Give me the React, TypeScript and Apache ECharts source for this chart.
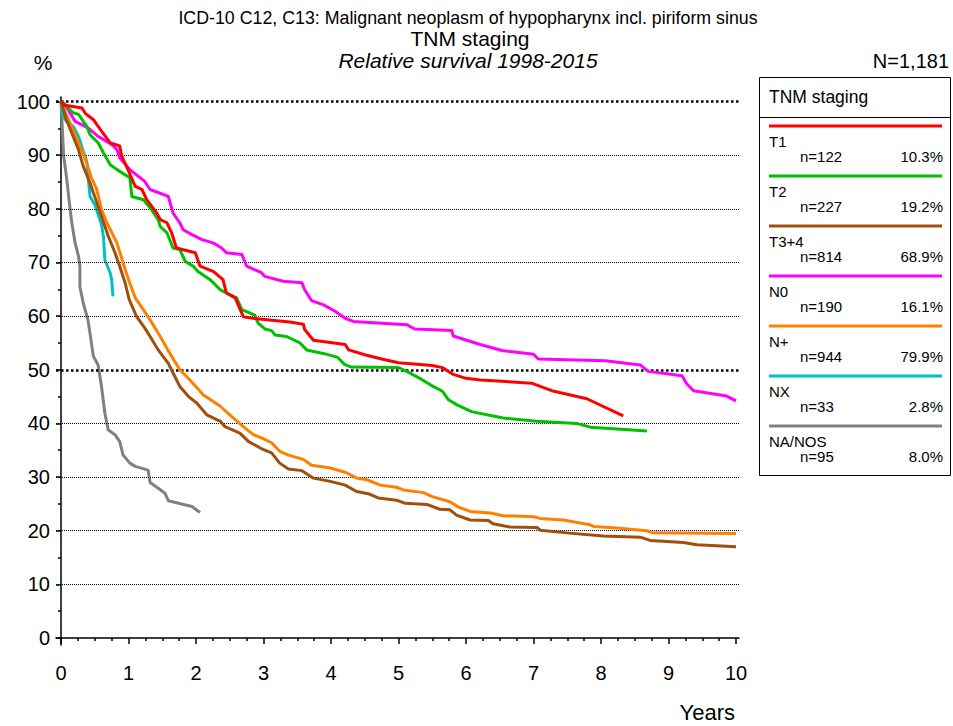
import React, { useEffect, useRef } from "react";
import * as echarts from "echarts";

const seriesNames = ["T1", "T2", "T3+4", "N0", "N+", "NX", "NA/NOS"];
const seriesColors = ["#ff0000", "#00c000", "#a0500a", "#ff00ff", "#ff8000", "#00c0c0", "#808080"];
const counts = ["n=122", "n=227", "n=814", "n=190", "n=944", "n=33", "n=95"];
const shares = ["10.3%", "19.2%", "68.9%", "16.1%", "79.9%", "2.8%", "8.0%"];

const yTickLabels = [0, 10, 20, 30, 40, 50, 60, 70, 80, 90, 100];
const yMinorTicks = [5, 15, 25, 35, 45, 55, 65, 75, 85, 95];
const xTickLabels = [0, 1, 2, 3, 4, 5, 6, 7, 8, 9, 10];
const xMinorTicks = [0.25, 0.5, 0.75, 1.25, 1.5, 1.75, 2.25, 2.5, 2.75, 3.25, 3.5, 3.75, 4.25, 4.5, 4.75, 5.25, 5.5, 5.75, 6.25, 6.5, 6.75, 7.25, 7.5, 7.75, 8.25, 8.5, 8.75, 9.25, 9.5, 9.75];
const gridLevels = [10, 20, 30, 40, 60, 70, 80, 90];
const boldLevels = [50, 100];

const t1: [number, number][] = [
  [0, 100], [0.06, 99.3], [0.31, 98.8], [0.36, 97.8], [0.48, 96.6], [0.6, 94.5], [0.73, 92.3], [0.87, 91.7],
  [0.9, 89.8], [0.97, 87.9], [1.1, 84.2], [1.2, 83.6], [1.27, 81.7], [1.42, 79.2], [1.47, 78.0], [1.57, 77.4],
  [1.64, 75.5], [1.71, 72.7], [1.99, 71.8], [2.06, 69.3], [2.26, 68.3], [2.4, 66.8], [2.45, 64.3], [2.58, 63.4],
  [2.7, 59.9], [2.9, 59.5], [3.39, 58.9], [3.59, 58.5], [3.61, 57.5], [3.74, 55.5], [4.21, 54.7], [4.26, 53.7],
  [4.5, 52.8], [4.75, 52.0], [5.0, 51.3], [5.5, 50.8], [5.65, 50.4], [5.8, 49.2], [6.0, 48.4], [6.21, 48.1],
  [6.97, 47.5], [7.27, 46.1], [7.79, 44.6], [8.33, 41.4]
];
const t2: [number, number][] = [
  [0, 100], [0.06, 99.4], [0.18, 97.9], [0.26, 97.6], [0.38, 95.4], [0.43, 93.8], [0.55, 92.3], [0.63, 90.4],
  [0.73, 88.2], [0.83, 87.3], [1.02, 85.8], [1.05, 82.3], [1.22, 81.7], [1.32, 80.2], [1.44, 78.0], [1.47, 76.7],
  [1.57, 75.5], [1.66, 72.7], [1.76, 72.4], [1.84, 70.2], [1.96, 69.3], [2.03, 68.3], [2.21, 66.8], [2.36, 64.9],
  [2.6, 63.4], [2.68, 61.2], [2.87, 60.2], [2.92, 58.7], [3.02, 57.6], [3.12, 57.3], [3.17, 56.5], [3.34, 56.2],
  [3.54, 55.0], [3.64, 53.7], [3.9, 53.0], [4.1, 52.3], [4.2, 51.0], [4.3, 50.5], [5.0, 50.4], [5.15, 49.5],
  [5.3, 48.5], [5.5, 47.0], [5.65, 46.0], [5.74, 44.4], [5.86, 43.5], [6.08, 42.2], [6.55, 41.0], [7.05, 40.4],
  [7.64, 40.0], [7.84, 39.3], [8.68, 38.6]
];
const t34: [number, number][] = [
  [0, 100], [0.08, 96.6], [0.18, 93.5], [0.26, 91.0], [0.33, 87.9], [0.43, 84.8], [0.5, 82.3], [0.6, 78.6],
  [0.7, 74.9], [0.8, 71.8], [0.87, 69.3], [0.95, 66.2], [1.01, 63.1], [1.12, 59.9], [1.24, 57.8], [1.32, 56.2],
  [1.44, 53.7], [1.59, 51.2], [1.66, 49.4], [1.76, 46.9], [1.89, 45.0], [2.01, 43.8], [2.16, 41.6], [2.36, 40.4],
  [2.43, 39.4], [2.65, 38.2], [2.78, 36.6], [3.0, 35.1], [3.12, 34.5], [3.24, 32.6], [3.37, 31.5], [3.57, 31.2],
  [3.74, 29.8], [3.99, 29.2], [4.21, 28.5], [4.38, 27.3], [4.55, 26.9], [4.7, 26.1], [4.97, 25.7], [5.1, 25.1],
  [5.42, 24.9], [5.61, 24.0], [5.76, 23.9], [5.86, 22.9], [6.06, 22.0], [6.33, 21.9], [6.4, 21.3], [6.65, 20.7],
  [7.05, 20.6], [7.1, 20.1], [7.49, 19.6], [8.03, 19.0], [8.58, 18.8], [8.73, 18.2], [9.22, 17.8], [9.42, 17.4],
  [10.0, 17.0]
];
const n0: [number, number][] = [
  [0, 100], [0.06, 99.4], [0.21, 96.3], [0.4, 95.1], [0.55, 93.5], [0.75, 92.0], [0.83, 91.0], [0.87, 89.5],
  [1.02, 87.3], [1.17, 85.8], [1.24, 85.1], [1.32, 83.6], [1.59, 82.3], [1.66, 79.2], [1.76, 77.4], [1.81, 76.1],
  [1.94, 75.2], [2.08, 74.3], [2.26, 73.6], [2.38, 72.7], [2.45, 71.8], [2.68, 71.5], [2.75, 69.3], [2.97, 68.1],
  [3.02, 67.4], [3.29, 66.5], [3.57, 66.2], [3.61, 64.9], [3.71, 62.9], [3.89, 62.1], [4.06, 60.9], [4.21, 59.6],
  [4.33, 59.0], [5.12, 58.4], [5.24, 57.6], [5.79, 57.3], [5.81, 56.3], [6.21, 54.7], [6.53, 53.6], [7.0, 52.9],
  [7.07, 52.0], [8.06, 51.7], [8.58, 50.9], [8.7, 49.7], [9.2, 48.9], [9.27, 47.4], [9.37, 46.1], [9.86, 45.1],
  [10.0, 44.2]
];
const nPlus: [number, number][] = [
  [0, 100], [0.08, 97.5], [0.18, 94.7], [0.28, 91.7], [0.38, 88.6], [0.45, 85.8], [0.53, 83.6], [0.6, 79.9],
  [0.68, 77.4], [0.83, 73.6], [0.92, 69.9], [1.0, 66.8], [1.1, 63.4], [1.22, 61.2], [1.32, 59.3], [1.47, 56.2],
  [1.61, 53.1], [1.76, 50.0], [1.91, 48.1], [2.11, 45.3], [2.36, 43.2], [2.5, 41.6], [2.7, 39.4], [2.85, 37.9],
  [2.97, 37.3], [3.12, 36.4], [3.24, 34.8], [3.37, 34.1], [3.59, 33.3], [3.71, 32.2], [3.99, 31.7], [4.23, 30.8],
  [4.38, 29.8], [4.53, 29.5], [4.73, 28.5], [4.97, 28.1], [5.07, 27.6], [5.37, 27.1], [5.49, 26.4], [5.76, 25.4],
  [5.89, 24.4], [6.06, 23.6], [6.36, 23.3], [6.55, 22.8], [7.0, 22.6], [7.1, 22.3], [7.44, 22.0], [7.84, 21.1],
  [7.89, 20.8], [8.23, 20.5], [8.68, 20.0], [8.77, 19.6], [10.0, 19.5]
];
const nx: [number, number][] = [
  [0, 100], [0.03, 97.3], [0.08, 96.3], [0.18, 95.4], [0.26, 93.5], [0.33, 90.7], [0.38, 88.9], [0.43, 82.3],
  [0.5, 80.8], [0.6, 77.1], [0.63, 74.6], [0.65, 70.5], [0.73, 68.0], [0.75, 66.8], [0.77, 63.7]
];
const naNos: [number, number][] = [
  [0, 100], [0.01, 97.3], [0.02, 94.8], [0.04, 89.8], [0.08, 86.1], [0.13, 80.5], [0.16, 77.4], [0.21, 73.6],
  [0.26, 71.1], [0.28, 69.3], [0.28, 65.5], [0.33, 62.4], [0.4, 59.3], [0.48, 52.5], [0.55, 50.9], [0.6, 46.9],
  [0.65, 41.9], [0.7, 38.8], [0.8, 37.9], [0.87, 36.6], [0.92, 34.1], [1.02, 32.6], [1.1, 32.0], [1.29, 31.3],
  [1.32, 29.0], [1.44, 27.9], [1.54, 27.0], [1.59, 25.6], [1.71, 25.2], [1.94, 24.5], [2.06, 23.4]
];
const seriesData = [t1, t2, t34, n0, nPlus, nx, naNos];

const FONT = "'Liberation Sans', Arial, sans-serif";

export default function App() {
  const ref = useRef<HTMLDivElement>(null);
  useEffect(() => {
    document.body.style.margin = "0";
    const chart = echarts.init(ref.current!, undefined, { renderer: "svg" });
    const X_MIN = -0.074, X_MAX = 10.044, Y_MIN = -1.3, Y_MAX = 100.84;

    const legendGraphics: any[] = [
      { type: "rect", shape: { x: 759.5, y: 77.5, width: 191, height: 398 }, style: { fill: "#fff", stroke: "#000", lineWidth: 1 } },
      { type: "line", shape: { x1: 759.5, y1: 117.5, x2: 950.5, y2: 117.5 }, style: { stroke: "#000", lineWidth: 1 } },
      { type: "text", x: 769, y: 97, style: { text: "TNM staging", font: `17.5px ${FONT}`, fill: "#000", verticalAlign: "middle" } },
    ];
    seriesNames.forEach((name, i) => {
      const y0 = 126 + 50 * i;
      legendGraphics.push(
        { type: "line", shape: { x1: 769, y1: y0, x2: 942, y2: y0 }, style: { stroke: seriesColors[i], lineWidth: 3 } },
        { type: "text", x: 769, y: y0 + 15, style: { text: name, font: `15px ${FONT}`, fill: "#000", verticalAlign: "middle" } },
        { type: "text", x: 800, y: y0 + 30, style: { text: counts[i], font: `15px ${FONT}`, fill: "#000", verticalAlign: "middle" } },
        { type: "text", x: 943, y: y0 + 30, style: { text: shares[i], font: `15px ${FONT}`, fill: "#000", verticalAlign: "middle", align: "right" } }
      );
    });

    const titleGraphics: any[] = [
      { type: "text", x: 468, y: 18, style: { text: "ICD-10 C12, C13: Malignant neoplasm of hypopharynx incl. piriform sinus", font: `17.8px ${FONT}`, fill: "#000", align: "center", verticalAlign: "middle" } },
      { type: "text", x: 470, y: 38, style: { text: "TNM staging", font: `21px ${FONT}`, fill: "#000", align: "center", verticalAlign: "middle" } },
      { type: "text", x: 468, y: 60, style: { text: "Relative survival 1998-2015", font: `italic 21px ${FONT}`, fill: "#000", align: "center", verticalAlign: "middle" } },
      { type: "text", x: 43, y: 62, style: { text: "%", font: `21px ${FONT}`, fill: "#000", align: "center", verticalAlign: "middle" } },
      { type: "text", x: 949, y: 61, style: { text: "N=1,181", font: `20px ${FONT}`, fill: "#000", align: "right", verticalAlign: "middle" } },
      { type: "text", x: 735, y: 712, style: { text: "Years", font: `22px ${FONT}`, fill: "#000", align: "right", verticalAlign: "middle" } },
    ];

    const gridSeries = {
      type: "line",
      data: [],
      silent: true,
      xAxisIndex: 0,
      yAxisIndex: 0,
      markLine: {
        silent: true,
        symbol: "none",
        label: { show: false },
        animation: false,
        data: [
          ...gridLevels.map((v) => ({ yAxis: v, lineStyle: { color: "#000", width: 1, type: [1, 1] } })),
          ...boldLevels.map((v) => ({ yAxis: v, lineStyle: { color: "#000", width: 2.5, type: [2.5, 2.5] } })),
        ],
      },
    };

    const option: any = {
      animation: false,
      backgroundColor: "#fff",
      grid: { left: 56, top: 97, width: 683, height: 548 },
      xAxis: [
        {
          type: "value", min: X_MIN, max: X_MAX, position: "bottom",
          axisLine: { show: true, lineStyle: { color: "#000", width: 1.5 } },
          axisTick: { show: true, length: 6, customValues: xTickLabels, lineStyle: { color: "#000", width: 1.5 } },
          axisLabel: { show: true, customValues: xTickLabels, margin: 18, fontSize: 20, fontFamily: FONT, color: "#000" },
          splitLine: { show: false },
        },
        {
          type: "value", min: X_MIN, max: X_MAX, position: "bottom", offset: 0,
          axisLine: { show: false },
          axisTick: { show: true, length: 3, customValues: xMinorTicks, lineStyle: { color: "#000", width: 1.5 } },
          axisLabel: { show: false },
          splitLine: { show: false },
        },
      ],
      yAxis: [
        {
          type: "value", min: Y_MIN, max: Y_MAX, position: "left",
          axisLine: { show: true, lineStyle: { color: "#000", width: 1.5 } },
          axisTick: { show: true, length: 5, customValues: yTickLabels, lineStyle: { color: "#000", width: 1.5 } },
          axisLabel: { show: true, customValues: yTickLabels, margin: 6, fontSize: 20, fontFamily: FONT, color: "#000" },
          splitLine: { show: false },
        },
        {
          type: "value", min: Y_MIN, max: Y_MAX, position: "left", offset: 0,
          axisLine: { show: false },
          axisTick: { show: true, length: 3, customValues: yMinorTicks, lineStyle: { color: "#000", width: 1.5 } },
          axisLabel: { show: false },
          splitLine: { show: false },
        },
      ],
      series: [
        gridSeries,
        ...seriesNames.map((name, i) => ({
          type: "line",
          name,
          data: seriesData[i],
          xAxisIndex: 0,
          yAxisIndex: 0,
          showSymbol: false,
          symbol: "none",
          smooth: false,
          lineStyle: { color: seriesColors[i], width: 3, join: "round" },
          itemStyle: { color: seriesColors[i] },
          z: 3 + (6 - i),
        })),
      ],
      graphic: [...titleGraphics, ...legendGraphics],
    };
    chart.setOption(option);
    return () => chart.dispose();
  }, []);
  return <div ref={ref} style={{ position: "absolute", left: 0, top: 0, width: 953, height: 726 }} />;
}
